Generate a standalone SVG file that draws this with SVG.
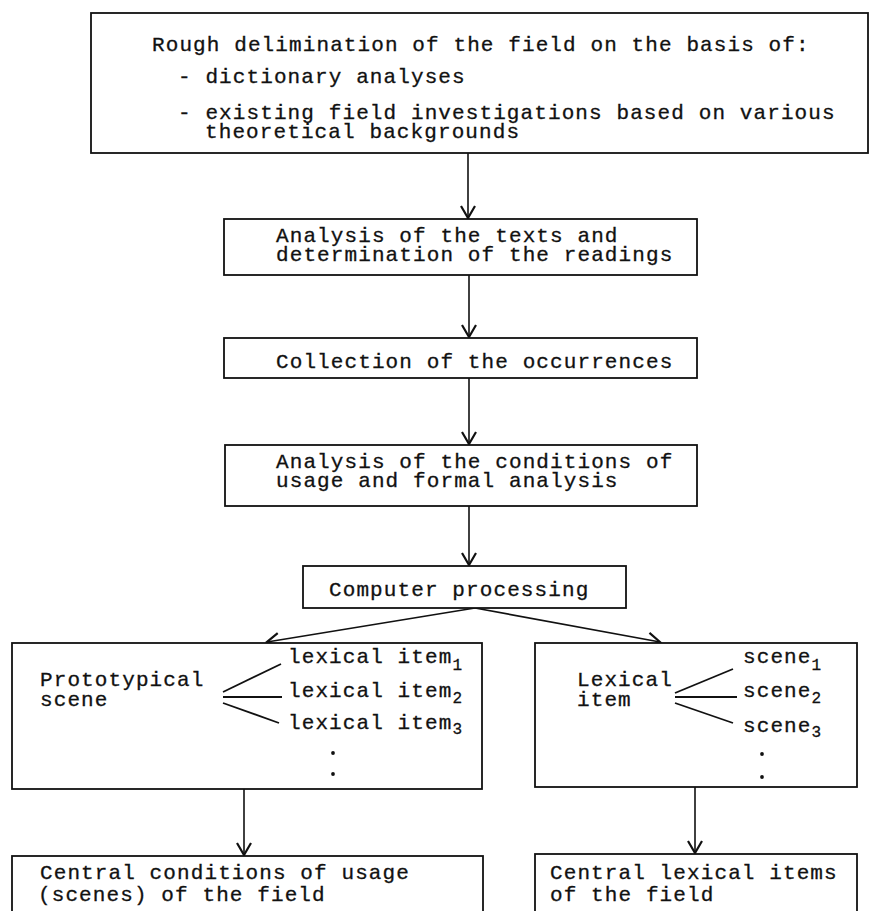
<svg xmlns="http://www.w3.org/2000/svg" width="871" height="911" viewBox="0 0 871 911">
<defs>
<style>
.box{fill:#fff;stroke:#111;stroke-width:1.8}
.t{font-family:"Liberation Mono","Courier New",monospace;font-size:21px;letter-spacing:1.1px;fill:#111;stroke:#111;stroke-width:0.3}
.sub{font-size:16px;letter-spacing:0}
.c{stroke:#111;stroke-width:1.6;fill:none}
.br{stroke:#111;stroke-width:1.8;fill:none}
.dot{fill:#111}
</style>
<marker id="ah" viewBox="-14 -10 16 20" refX="0" refY="0" markerWidth="16" markerHeight="20" markerUnits="userSpaceOnUse" orient="auto">
<path d="M-12,-7 L0,0 L-12,7" fill="none" stroke="#111" stroke-width="2.2"/>
</marker>
</defs>
<rect width="871" height="911" fill="#fff"/>

<g id="connectors">
<line class="c" x1="468" y1="153" x2="468" y2="218" marker-end="url(#ah)"/>
<line class="c" x1="469" y1="275" x2="469" y2="337" marker-end="url(#ah)"/>
<line class="c" x1="469" y1="378" x2="469" y2="444" marker-end="url(#ah)"/>
<line class="c" x1="469" y1="506" x2="469" y2="565" marker-end="url(#ah)"/>
<line class="c" x1="475" y1="608" x2="267" y2="642" marker-end="url(#ah)"/>
<line class="c" x1="475" y1="608" x2="660" y2="642" marker-end="url(#ah)"/>
<line class="c" x1="244" y1="789" x2="244" y2="855" marker-end="url(#ah)"/>
<line class="c" x1="695" y1="787" x2="695" y2="853" marker-end="url(#ah)"/>
</g>

<g id="n1">
<rect class="box" x="91" y="13" width="777" height="140"/>
<text class="t" x="152" y="51">Rough delimination of the field on the basis of:</text>
<text class="t" x="178" y="83">- dictionary analyses</text>
<text class="t"><tspan x="178" y="119">- existing field investigations based on various</tspan><tspan x="205" y="138">theoretical backgrounds</tspan></text>
</g>

<g id="n2">
<rect class="box" x="224" y="219" width="473" height="56"/>
<text class="t"><tspan x="276" y="242">Analysis of the texts and</tspan><tspan x="276" y="261">determination of the readings</tspan></text>
</g>

<g id="n3">
<rect class="box" x="224" y="338" width="473" height="40"/>
<text class="t" x="276" y="368">Collection of the occurrences</text>
</g>

<g id="n4">
<rect class="box" x="225" y="445" width="472" height="61"/>
<text class="t"><tspan x="276" y="468">Analysis of the conditions of</tspan><tspan x="276" y="487">usage and formal analysis</tspan></text>
</g>

<g id="n5">
<rect class="box" x="303" y="566" width="323" height="42"/>
<text class="t" x="329" y="596">Computer processing</text>
</g>

<g id="n6">
<rect class="box" x="12" y="643" width="470" height="146"/>
<text class="t"><tspan x="40" y="686">Prototypical</tspan><tspan x="40" y="706">scene</tspan></text>
<line class="br" x1="223" y1="692" x2="281" y2="664"/>
<line class="br" x1="223" y1="697" x2="282" y2="697"/>
<line class="br" x1="223" y1="703" x2="279" y2="723"/>
<text class="t" x="288" y="663">lexical item<tspan class="sub" dy="7">1</tspan></text>
<text class="t" x="288" y="697">lexical item<tspan class="sub" dy="6">2</tspan></text>
<text class="t" x="288" y="729">lexical item<tspan class="sub" dy="5">3</tspan></text>
<circle class="dot" cx="333" cy="753" r="1.9"/>
<circle class="dot" cx="333" cy="774" r="1.9"/>
</g>

<g id="n7">
<rect class="box" x="535" y="643" width="322" height="144"/>
<text class="t"><tspan x="577" y="686">Lexical</tspan><tspan x="577" y="706">item</tspan></text>
<line class="br" x1="675" y1="693" x2="733" y2="669"/>
<line class="br" x1="675" y1="697" x2="737" y2="697"/>
<line class="br" x1="675" y1="703" x2="733" y2="723"/>
<text class="t" x="743" y="663">scene<tspan class="sub" dy="7">1</tspan></text>
<text class="t" x="743" y="697">scene<tspan class="sub" dy="6">2</tspan></text>
<text class="t" x="743" y="732">scene<tspan class="sub" dy="5">3</tspan></text>
<circle class="dot" cx="762" cy="754" r="1.9"/>
<circle class="dot" cx="762" cy="777" r="1.9"/>
</g>

<g id="n8">
<rect class="box" x="12" y="856" width="471" height="70"/>
<text class="t"><tspan x="40" y="879">Central conditions of usage</tspan><tspan x="38" y="901">(scenes) of the field</tspan></text>
</g>

<g id="n9">
<rect class="box" x="535" y="854" width="322" height="70"/>
<text class="t"><tspan x="550" y="879">Central lexical items</tspan><tspan x="550" y="901">of the field</tspan></text>
</g>
</svg>
